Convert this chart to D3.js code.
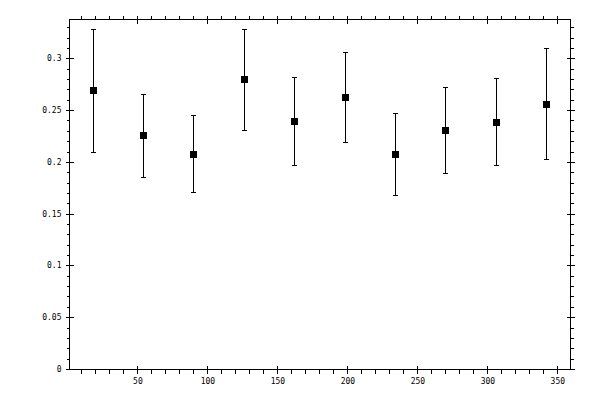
<!DOCTYPE html>
<html>
<head>
<meta charset="utf-8">
<script src="https://cdn.jsdelivr.net/npm/d3@7"></script>
<style>
  body { margin: 0; background: #fff; }
  svg text { font-family: "DejaVu Sans Mono", monospace; font-size: 8px; fill: #000; }
</style>
</head>
<body>
<svg width="600" height="400"></svg>
<script>
// data
var xs    = [18, 54, 90, 126, 162, 198, 234, 270, 306, 342];
var ys    = [0.269, 0.2257, 0.2073, 0.2797, 0.2392, 0.2624, 0.2073, 0.2305, 0.2382, 0.2556];
var yHigh = [0.3286, 0.2653, 0.245, 0.3286, 0.2817, 0.3064, 0.2475, 0.272, 0.2807, 0.3097];
var yLow  = [0.210, 0.185, 0.1706, 0.2305, 0.1967, 0.2189, 0.1677, 0.189, 0.1967, 0.2025];

var xMajor = [50, 100, 150, 200, 250, 300, 350];
var xMinor = d3.range(10, 360, 10);
var yMajor = [0, 0.05, 0.1, 0.15, 0.2, 0.25, 0.3];
var yMinor = d3.range(0, 34).map(function(i) { return i / 100; });

// (window.top is taken, so plot edges get their own names)
var svg = d3.select("svg"),
    pLeft = 69.5, pRight = 570.5, pTop = 19.5, pBottom = 369.5;

var x = d3.scaleLinear().domain([1.5, 359.4]).range([pLeft, pRight]);
var y = d3.scaleLinear().domain([-0.0005, 0.3375]).range([pBottom, pTop]);

var fmt = d3.format("~g");

// draws one set of ticks on an edge; size<0 goes inward
function ticks(axisFn, scale, vals, size, pos, labels) {
  var g = svg.append("g")
    .attr("transform", pos)
    .call(axisFn(scale).tickValues(vals).tickSize(size)
      .tickPadding(labels ? (axisFn === d3.axisBottom ? 5 : 4) : 0)
      .tickFormat(labels ? fmt : ""));
  g.select(".domain").remove();
  g.attr("font-family", null).attr("font-size", null);
  g.selectAll("line").attr("stroke", "#000").attr("shape-rendering", "crispEdges");
  g.selectAll("text").attr("fill", "#000");
  return g;
}

// bottom
ticks(d3.axisBottom, x, xMinor, 4, "translate(0," + pBottom + ")", false);
ticks(d3.axisBottom, x, xMajor, 4, "translate(0," + pBottom + ")", true);
ticks(d3.axisBottom, x, xMajor, -4, "translate(0," + pBottom + ")", false);
// top
ticks(d3.axisTop, x, xMinor, 4, "translate(0," + pTop + ")", false);
ticks(d3.axisTop, x, xMajor, -4, "translate(0," + pTop + ")", false);
ticks(d3.axisTop, x, xMajor, 4, "translate(0," + pTop + ")", false);
// left
ticks(d3.axisLeft, y, yMinor, 3, "translate(" + pLeft + ",0)", false);
ticks(d3.axisLeft, y, yMajor, 4, "translate(" + pLeft + ",0)", true);
ticks(d3.axisLeft, y, yMajor, -4, "translate(" + pLeft + ",0)", false);
// right
ticks(d3.axisRight, y, yMinor, 3, "translate(" + pRight + ",0)", false);
ticks(d3.axisRight, y, yMajor, 4, "translate(" + pRight + ",0)", false);
ticks(d3.axisRight, y, yMajor, -4, "translate(" + pRight + ",0)", false);

// frame
svg.append("rect")
  .attr("x", pLeft).attr("y", pTop)
  .attr("width", pRight - pLeft).attr("height", pBottom - pTop)
  .attr("fill", "none").attr("stroke", "#000")
  .attr("shape-rendering", "crispEdges");

// error bars and markers
var pts = xs.map(function(d, i) { return { x: d, y: ys[i], hi: yHigh[i], lo: yLow[i] }; });

var g = svg.append("g").attr("shape-rendering", "crispEdges").attr("stroke", "#000");

g.selectAll(".bar").data(pts).enter().append("line")
  .attr("x1", function(d) { return Math.round(x(d.x)) + 0.5; })
  .attr("x2", function(d) { return Math.round(x(d.x)) + 0.5; })
  .attr("y1", function(d) { return y(d.hi); })
  .attr("y2", function(d) { return y(d.lo); });

["hi", "lo"].forEach(function(k) {
  g.selectAll(".cap-" + k).data(pts).enter().append("line")
    .attr("x1", function(d) { return Math.round(x(d.x)) - 2; })
    .attr("x2", function(d) { return Math.round(x(d.x)) + 3; })
    .attr("y1", function(d) { return Math.round(y(d[k])) + 0.5; })
    .attr("y2", function(d) { return Math.round(y(d[k])) + 0.5; });
});

svg.selectAll(".pt").data(pts).enter().append("rect")
  .attr("x", function(d) { return Math.round(x(d.x)) - 3; })
  .attr("y", function(d) { return Math.round(y(d.y)) - 3; })
  .attr("width", 7).attr("height", 7)
  .attr("fill", "#000")
  .attr("shape-rendering", "crispEdges");
</script>
</body>
</html>
